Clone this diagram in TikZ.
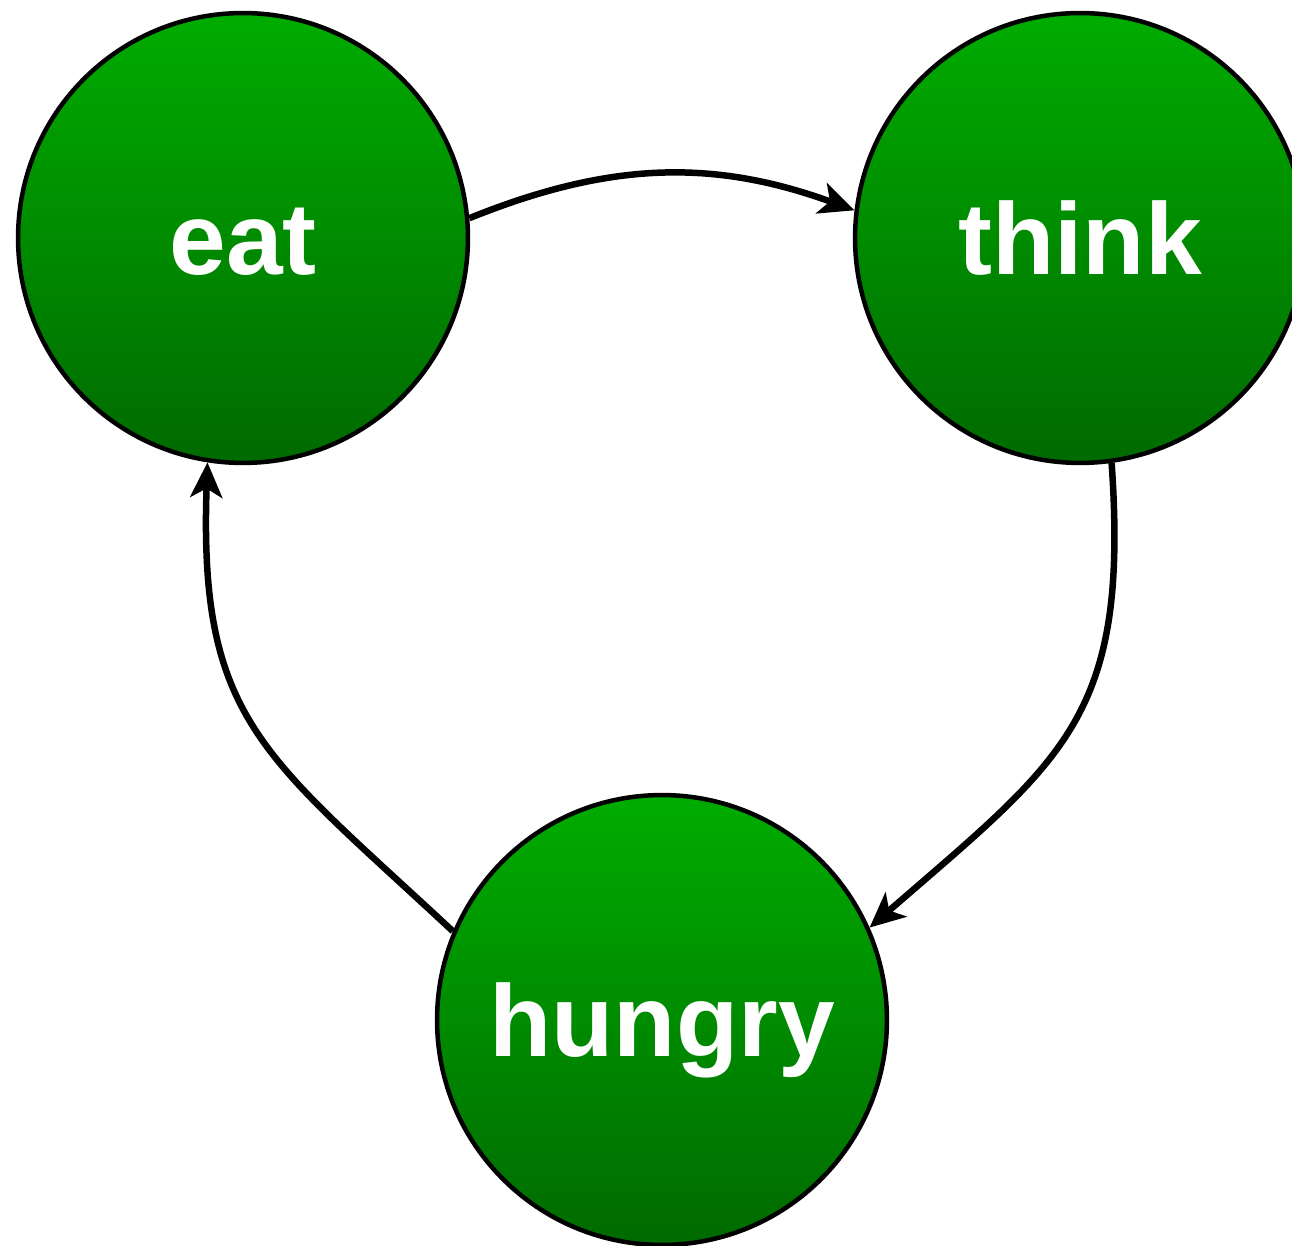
\documentclass[tikz,border=0pt]{standalone}
\usepackage{fontspec}
\setsansfont{Liberation Sans}
\usepackage{tikz}
\usetikzlibrary{arrows.meta}
\definecolor{stateTop}{HTML}{00AC00}
\definecolor{stateBottom}{HTML}{006A00}
\tikzset{
    stateNode/.style={circle, draw=black, line width=0.09cm, minimum size=9cm,
                      top color=stateTop, bottom color=stateBottom,
                      text=white, font=\sffamily\bfseries\fontsize{58pt}{60pt}\selectfont,
                      text height=42pt, text depth=0pt, inner sep=0pt},
    cycleArrow/.style={-{Stealth[length=7mm, width=6.4mm, inset=1.8mm]},
                       line width=0.13cm},
}

\begin{document}
\begin{tikzpicture}[x=0.02cm, y=-0.02cm]
\useasboundingbox (0,0) rectangle (1292,1246);

% states
\node[stateNode] (eat) at (243,238) {eat};
\node[stateNode] (think) at (1080,238) {think};
\node[stateNode] (hungry) at (662,1020) {hungry};

% transitions
\draw[cycleArrow] (eat.5) to[out=22, in=160] (think.173);
\draw[cycleArrow] (think.-82) to[out=-86, in=41, looseness=1.25] (hungry.24);
\draw[cycleArrow] (hungry.157) to[out=137, in=-92, looseness=1.25] (eat.-99);

\end{tikzpicture}
\end{document}
